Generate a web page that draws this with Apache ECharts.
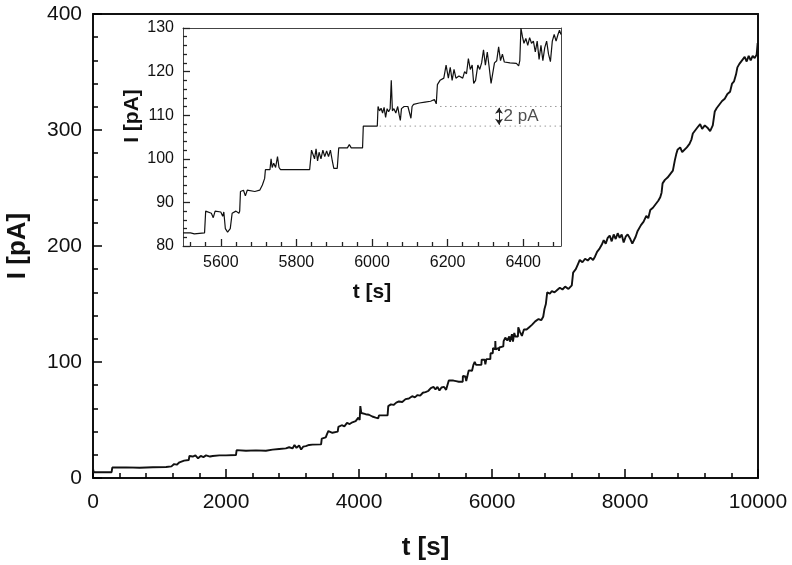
<!DOCTYPE html>
<html><head><meta charset="utf-8">
<script src="https://cdn.jsdelivr.net/npm/echarts@6/dist/echarts.min.js"></script>
<style>html,body{margin:0;padding:0;background:#fff}#c{width:792px;height:565px}</style>
</head><body><div id="c"></div>
<script>
// ---- main trace (t in s, I in pA) ----
const mainTime = [0,10,280,290,500,700,900,1100,1180,1220,1260,1300,1330,1370,1400,1440,1450,1500,1540,1580,1620,1660,1700,1760,1800,1900,2000,2150,2160,2300,2450,2600,2700,2800,2900,2950,3000,3030,3060,3100,3130,3160,3200,3250,3300,3430,3440,3500,3520,3540,3600,3680,3690,3740,3780,3820,3860,3900,3950,3990,4010,4020,4035,4060,4100,4150,4200,4250,4290,4300,4430,4440,4480,4520,4560,4600,4650,4700,4750,4800,4840,4880,4920,4960,5000,5040,5080,5120,5150,5180,5210,5240,5280,5310,5340,5350,5380,5420,5460,5500,5560,5562,5600,5612,5630,5650,5700,5720,5740,5760,5840,5845,5870,5890,5900,5915,5975,5978,6012,6015,6048,6050,6055,6100,6105,6110,6170,6175,6200,6230,6260,6270,6300,6315,6335,6350,6390,6395,6420,6450,6480,6520,6560,6600,6650,6700,6740,6770,6790,6810,6830,6870,6900,6940,6980,7020,7060,7100,7150,7200,7220,7260,7290,7320,7360,7400,7440,7480,7520,7550,7580,7620,7650,7680,7710,7740,7770,7800,7830,7860,7890,7920,7950,7980,8010,8040,8080,8110,8130,8160,8190,8220,8240,8280,8320,8350,8380,8420,8460,8500,8530,8550,8565,8600,8640,8680,8720,8750,8770,8790,8830,8860,8890,8930,8970,9000,9020,9060,9100,9130,9160,9200,9240,9280,9320,9350,9380,9420,9460,9500,9540,9580,9610,9640,9670,9690,9720,9760,9800,9830,9860,9890,9920,9950,9980,9995];
const mainCurrent = [8,5,5,9,9.2,8.8,9.3,9.5,10,12,11.5,13.5,12.5,15,14,15.5,19,18.5,19.5,17,19,18,19.5,18.5,19,19.5,19.5,19.8,24,23.5,23.8,23.5,24.5,25,25.5,26.5,25.5,28.5,26,28,24.5,27,27.5,28.5,28.8,29,34,35,38,40.5,39,40,44,45.5,44.5,47.5,46.5,48,49,52,50,62,56,57,55,54.5,53,52,51.5,54,54,62,63.5,63,65,66,65.5,68,68.5,70.5,69.5,71.5,71,73.5,74,75,77.5,78.5,76.5,78.5,75.5,78,78.5,76,77,84,85,84,83.5,83,83,88,87.5,83.5,88,92.8,92.5,97.5,100,97.5,97.5,102,100.5,102,98,102.5,102.5,107.5,107.5,112,111,118,111,112,109.5,112.5,113.5,118,121,118.5,122,117.5,124,117.5,125,122,122,130,126,122.5,128,128,130,132,135,137,136,139,146,150,160,159,161,160,162,164,162.5,165,163,166,177,180,184,188,186,189,187.5,190,188,191,195,198,201,205,202,207,209,204,210,206,211,207,210,203,208,210,206,202,201,208,213,212,218,221,226,224,231,233,236,239,242,246,254,257,259,262,265,274,279,283,285,281,280,285,288,292,297,300,303,305,301,304,302,299,304,316,319,322,325,327,331,333,340,342,348,354,357,360,363,359,364,360,364,362,365,375];

// ---- inset trace (zoom 5500-6500 s) ----
const insetTime = [5500,5520,5530,5557,5560,5575,5580,5585,5600,5605,5608,5612,5618,5625,5630,5640,5648,5650,5652,5660,5665,5670,5690,5703,5710,5716,5718,5730,5733,5736,5740,5745,5750,5754,5758,5835,5840,5848,5852,5856,5860,5865,5870,5875,5880,5885,5890,5895,5899,5908,5912,5935,5940,5945,5975,5977,6014,6016,6020,6024,6028,6032,6036,6040,6044,6048,6051,6054,6058,6063,6068,6072,6075,6078,6085,6095,6103,6106,6110,6125,6140,6155,6165,6170,6173,6180,6190,6196,6202,6207,6212,6217,6222,6230,6240,6245,6250,6255,6260,6265,6269,6274,6280,6285,6290,6295,6300,6305,6310,6315,6320,6324,6330,6335,6340,6345,6350,6365,6382,6388,6391,6394,6398,6402,6407,6412,6417,6422,6427,6432,6437,6442,6447,6452,6457,6462,6467,6472,6477,6482,6487,6492,6496,6500];
const insetCurrent = [83,83,82.8,83,88,87.5,86.5,88,87.8,86.8,87.8,84,83.2,84,87.5,88,87.5,88,92.5,92.8,91.5,92.8,92.5,92.8,94,95.5,97.5,97.5,100,98,99,98,100.5,98,97.5,97.5,102,100,102.3,99.5,101.5,100,102,100.5,101.8,100.5,102,99.5,97.8,97.8,102.5,102.5,103.3,102.5,102.5,107.5,107.5,112,111,111.6,110.5,111.8,109.5,111.5,110.8,111.5,118,111,111.5,110.5,112,110,108.8,111.5,112,112,109.3,112,112.5,112.8,113,113.2,113.6,112.6,117,118,118.5,121.5,118.5,121,118,120.5,118.5,119,118.5,120,119.5,123,120.5,121.5,117.3,118,121.5,120.5,122,125,121.5,124.5,121,117.3,117.3,122,122.5,125.7,122.5,124,122.2,122,121.9,121.3,122.5,130,128,126.5,127.6,126,127.8,126.5,127,124.5,127,122.8,126,122.5,125.5,127,124,122.3,127,128.5,127,128.5,129.5,128.5];

// ---- ticks / annotation ----
const mainXTicks = [0,2000,4000,6000,8000,10000];
const mainYTicks = [0,100,200,300,400];
const insetXLabels = [5600,5800,6000,6200,6400];
const insetXRange = [5500,6500];
const insetYTicks = [80,90,100,110,120,130];
const levelLow = 107.5, levelHigh = 112;
const levelLowStart = 6020, levelHighStart = 6180, levelEnd = 6500;
const arrowT = 6336;
const stepLabel = '2 pA';

const insetMinorX = [];
for (let v = 5520; v < 6500; v += 40) if (insetXLabels.indexOf(v) < 0) insetMinorX.push(v);

const zip = (a, b) => a.map((x, i) => [x, b[i]]);
const FONT = 'Liberation Sans';
const ink = '#111';
const plain = v => String(v);

const chart = echarts.init(document.getElementById('c'));
chart.setOption({
  animation: false,
  grid: [
    {left: 93, right: 34, top: 14, bottom: 87, outerBoundsMode: 'none'},
    {left: 183, right: 231, top: 28, bottom: 319, outerBoundsMode: 'none'}
  ],
  xAxis: [
    {gridIndex: 0, type: 'value', min: mainXTicks[0], max: mainXTicks[mainXTicks.length-1], interval: 2000,
     name: 't [s]', nameLocation: 'middle', nameGap: 57,
     nameTextStyle: {fontFamily: FONT, fontWeight: 'bold', fontSize: 26, color: ink},
     axisLine: {show: true, lineStyle: {color: ink, width: 2}},
     axisTick: {show: true, inside: true, length: 9, lineStyle: {color: '#000', width: 1.5}},
     minorTick: {show: true, splitNumber: 5, length: 5, lineStyle: {color: '#000', width: 1.5}},
     axisLabel: {fontFamily: FONT, fontSize: 21, color: ink, margin: 14, formatter: plain},
     splitLine: {show: false}},
    {gridIndex: 0, type: 'value', position: 'top', min: mainXTicks[0], max: mainXTicks[mainXTicks.length-1],
     axisLine: {show: true, onZero: false, lineStyle: {color: ink, width: 2}},
     axisTick: {show: false}, axisLabel: {show: false}, splitLine: {show: false}},
    {gridIndex: 1, type: 'value', min: insetXRange[0], max: insetXRange[1],
     name: 't [s]', nameLocation: 'middle', nameGap: 36,
     nameTextStyle: {fontFamily: FONT, fontWeight: 'bold', fontSize: 21, color: ink},
     axisLine: {show: true, lineStyle: {color: '#444', width: 1}},
     axisTick: {show: true, inside: true, length: 7, customValues: insetXLabels, lineStyle: {color: '#222', width: 1.3}},
     axisLabel: {fontFamily: FONT, fontSize: 16, color: ink, margin: 9, customValues: insetXLabels, formatter: plain},
     splitLine: {show: false}},
    {gridIndex: 1, type: 'value', position: 'bottom', min: insetXRange[0], max: insetXRange[1],
     axisLine: {show: false},
     axisTick: {show: true, inside: true, length: 4, customValues: insetMinorX, lineStyle: {color: '#222', width: 1.3}},
     axisLabel: {show: false}, splitLine: {show: false}},
    {gridIndex: 1, type: 'value', position: 'top', min: insetXRange[0], max: insetXRange[1],
     axisLine: {show: true, onZero: false, lineStyle: {color: '#444', width: 1}},
     axisTick: {show: false}, axisLabel: {show: false}, splitLine: {show: false}}
  ],
  yAxis: [
    {gridIndex: 0, type: 'value', min: mainYTicks[0], max: mainYTicks[mainYTicks.length-1], interval: 100,
     name: 'I [pA]', nameLocation: 'middle', nameGap: 62, nameRotate: 90,
     nameTextStyle: {fontFamily: FONT, fontWeight: 'bold', fontSize: 26, color: ink},
     axisLine: {show: true, lineStyle: {color: ink, width: 2}},
     axisTick: {show: true, inside: true, length: 9, lineStyle: {color: '#000', width: 1.5}},
     minorTick: {show: true, splitNumber: 5, length: 5, lineStyle: {color: '#000', width: 1.5}},
     axisLabel: {fontFamily: FONT, fontSize: 21, color: ink, margin: 11, formatter: plain},
     splitLine: {show: false}},
    {gridIndex: 0, type: 'value', position: 'right', min: mainYTicks[0], max: mainYTicks[mainYTicks.length-1],
     axisLine: {show: true, onZero: false, lineStyle: {color: ink, width: 2}},
     axisTick: {show: false}, axisLabel: {show: false}, splitLine: {show: false}},
    {gridIndex: 1, type: 'value', min: insetYTicks[0], max: insetYTicks[insetYTicks.length-1], interval: 10,
     name: 'I [pA]', nameLocation: 'middle', nameGap: 40, nameRotate: 90,
     nameTextStyle: {fontFamily: FONT, fontWeight: 'bold', fontSize: 21, color: ink, padding: [0, 0, 0, 42]},
     axisLine: {show: true, lineStyle: {color: '#444', width: 1}},
     axisTick: {show: true, inside: true, length: 7, lineStyle: {color: '#222', width: 1.3}},
     minorTick: {show: true, splitNumber: 5, length: 4, lineStyle: {color: '#222', width: 1.3}},
     axisLabel: {fontFamily: FONT, fontSize: 16, color: ink, margin: 9, formatter: plain},
     splitLine: {show: false}},
    {gridIndex: 1, type: 'value', position: 'right', min: insetYTicks[0], max: insetYTicks[insetYTicks.length-1],
     axisLine: {show: true, onZero: false, lineStyle: {color: '#444', width: 1}},
     axisTick: {show: false}, axisLabel: {show: false}, splitLine: {show: false}}
  ],
  series: [
    {type: 'line', xAxisIndex: 0, yAxisIndex: 0, data: zip(mainTime, mainCurrent), showSymbol: false,
     lineStyle: {color: '#111', width: 1.9}},
    {type: 'line', xAxisIndex: 2, yAxisIndex: 2, data: zip(insetTime, insetCurrent), showSymbol: false,
     lineStyle: {color: '#111', width: 1.2}},
    {type: 'line', xAxisIndex: 2, yAxisIndex: 2, data: [[levelLowStart, levelLow], [levelEnd, levelLow]], showSymbol: false,
     lineStyle: {color: '#999', width: 1, type: [1.5, 3.5]}},
    {type: 'line', xAxisIndex: 2, yAxisIndex: 2, data: [[levelHighStart, levelHigh], [levelEnd, levelHigh]], showSymbol: false,
     lineStyle: {color: '#999', width: 1, type: [1.5, 3.5]},
     markLine: {silent: true, symbol: ['arrow', 'arrow'], symbolSize: [6, 6],
       lineStyle: {color: '#222', width: 1, type: 'solid'}, label: {show: false},
       data: [[{coord: [arrowT, levelLow + 0.3]}, {coord: [arrowT, levelHigh - 0.3]}]]}},
    {type: 'scatter', xAxisIndex: 2, yAxisIndex: 2, data: [[arrowT + 12, (levelLow + levelHigh) / 2]], symbolSize: 0,
     label: {show: true, position: 'right', distance: 0, formatter: stepLabel, fontFamily: FONT, fontSize: 17, color: '#222'}}
  ]
});
</script></body></html>
